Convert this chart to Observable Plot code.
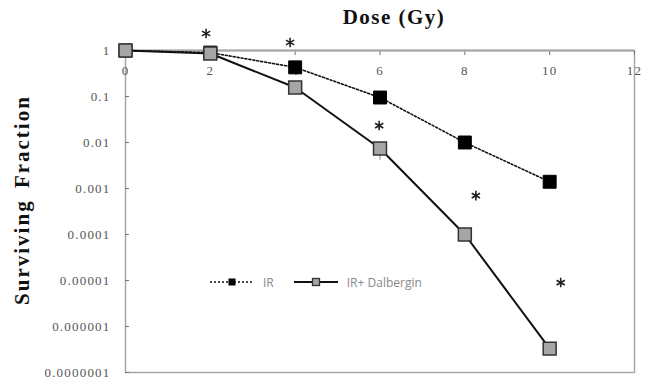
<!DOCTYPE html>
<html><head><meta charset="utf-8">
<script src="https://cdn.jsdelivr.net/npm/d3@7"></script>
<script src="https://cdn.jsdelivr.net/npm/@observablehq/plot@0.6"></script>
<style>
body{margin:0;background:#fff;}
#wrap{position:relative;width:646px;height:382px;overflow:hidden;}
#title{position:absolute;top:5px;left:294px;width:200px;text-align:center;font:bold 21px "Liberation Serif",serif;color:#111;letter-spacing:1.5px;}
#ytitle{position:absolute;left:23px;top:200px;width:260px;margin-left:-130px;margin-top:-13px;height:26px;line-height:26px;text-align:center;transform:rotate(-90deg);font:bold 21px "Liberation Serif",serif;color:#111;letter-spacing:2px;word-spacing:4px;white-space:nowrap;}
#chart{position:absolute;top:30px;left:0;}
#chart svg text{font-family:"Liberation Serif",serif !important;font-size:13px;letter-spacing:1.2px;}
#legend{position:absolute;top:274px;left:210px;font:12px "Open Sans",sans-serif;color:#8a8a8a;display:flex;align-items:center;height:16px;}
#legend span{margin-left:9px;}
</style></head><body>
<div id="wrap">
  <div id="chart"></div>
  <div id="title">Dose (Gy)</div>
  <div id="ytitle">Surviving Fraction</div>
  <div id="legend"></div>
</div>
<script>
const doses = [0, 2, 4, 6, 8, 10];
const irValues = [1, 0.9, 0.43, 0.095, 0.01, 0.0014];
const dalValues = [1, 0.86, 0.157, 0.0074, 0.0001, 3.3e-7];
const dalErrLow = [null, null, null, 0.0041, null, null];
const starDoses = [1.9, 3.88, 5.98, 8.26, 10.26];
const starValues = [2.34, 1.49, 0.0233, 0.0007, 9e-6];
const xTicks = [0, 2, 4, 6, 8, 10, 12];
const yTicks = [1, 0.1, 0.01, 0.001, 0.0001, 0.00001, 0.000001, 0.0000001];
const yTickLabels = ["1", "0.1", "0.01", "0.001", "0.0001", "0.00001", "0.000001", "0.0000001"];
const seriesNames = ["IR", "IR+ Dalbergin"];

const irRows = doses.map((d, i) => ({dose: d, value: irValues[i], series: seriesNames[0]}));
const dalRows = doses.map((d, i) => ({dose: d, value: dalValues[i], low: dalErrLow[i], series: seriesNames[1]}));
const starRows = starDoses.map((d, i) => ({dose: d, value: starValues[i]}));

const chart = Plot.plot({
  width: 646, height: 352,
  marginTop: 20, marginBottom: 10, marginLeft: 125, marginRight: 12,
  style: {fontFamily: "Liberation Serif", fontSize: "13px", color: "#555", background: "transparent", overflow: "visible"},
  x: {type: "linear", domain: [0, 12]},
  y: {type: "log", domain: [1e-7, 1]},
  marks: [
    Plot.frame({stroke: "#a6a6a6", strokeWidth: 1.5}),
    Plot.axisX({anchor: "top", ticks: xTicks, tickSize: -4, tickPadding: -16, lineAnchor: "middle", stroke: "#777", fill: "#555", label: null}),
    Plot.axisY({anchor: "left", ticks: yTicks, tickFormat: d => yTickLabels[yTicks.indexOf(d)], tickSize: -4, tickPadding: 19, stroke: "#777", fill: "#555", label: null}),
    Plot.ruleY([1], {stroke: "#a6a6a6", strokeWidth: 2}),
    Plot.line(irRows, {x: "dose", y: "value", stroke: "#111", strokeWidth: 1.6, strokeDasharray: "2,2"}),
    Plot.line(dalRows, {x: "dose", y: "value", stroke: "#111", strokeWidth: 2}),
    Plot.ruleX(dalRows.filter(d => d.low != null), {x: "dose", y1: "value", y2: "low", stroke: "#999", strokeWidth: 1.2}),
    Plot.dot(irRows, {x: "dose", y: "value", symbol: "square", r: 7.3, fill: "#000", stroke: "#000", strokeWidth: 1}),
    Plot.dot(dalRows, {x: "dose", y: "value", symbol: "square", r: 7.3, fill: "#a6a6a6", stroke: "#333", strokeWidth: 1.5}),
    Plot.dot(starRows, {x: "dose", y: "value", symbol: "asterisk", r: 4.5, stroke: "#222", strokeWidth: 1.6})
  ]
});
document.getElementById("chart").appendChild(chart);

const legend = document.getElementById("legend");
legend.innerHTML = `
<svg width="44" height="12"><line x1="0" y1="6" x2="44" y2="6" stroke="#111" stroke-width="1.5" stroke-dasharray="2,2"/><rect x="18.5" y="2.5" width="7" height="7" fill="#000"/></svg>
<span>${seriesNames[0]}</span>
<svg width="44" height="12" style="margin-left:20px"><line x1="0" y1="6" x2="44" y2="6" stroke="#111" stroke-width="2"/><rect x="18.5" y="2.5" width="7" height="7" fill="#a6a6a6" stroke="#333" stroke-width="1.3"/></svg>
<span>${seriesNames[1]}</span>`;
</script>
</body></html>
